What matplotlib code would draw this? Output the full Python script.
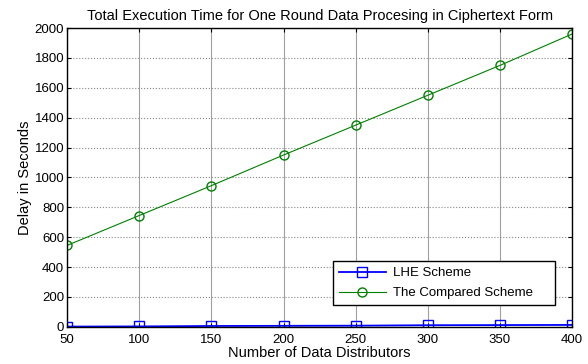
import matplotlib.pyplot as plt

plt.rcParams['font.family'] = ['Liberation Sans', 'DejaVu Sans']

# data
distributors = [50, 100, 150, 200, 250, 300, 350, 400]
lhe_delay = [2, 3, 6, 7, 8, 11, 12, 13]
compared_delay = [545, 745, 945, 1150, 1350, 1550, 1750, 1960]

fig = plt.figure(figsize=(5.88, 3.64), dpi=100)
ax = fig.add_axes([0.114, 0.102, 0.859, 0.821])

ax.plot(distributors, lhe_delay, color='#0000ff', marker='s', markersize=6.5,
        markerfacecolor='none', markeredgecolor='#0000ff', linewidth=1.3, label='LHE Scheme')
ax.plot(distributors, compared_delay, color='#008000', marker='o', markersize=6.5,
        markerfacecolor='none', markeredgecolor='#008000', linewidth=0.8, label='The Compared Scheme')

ax.set_xlim(50, 400)
ax.set_ylim(0, 2000)
ax.set_xticks(distributors)
ax.set_yticks(range(0, 2001, 200))
ax.tick_params(direction='in', labelsize=9.5, length=3, top=True, right=True, pad=2)
ax.tick_params(axis='x', pad=5)
ax.xaxis.grid(True, color='#a0a0a0', linestyle='-', linewidth=0.8)
ax.yaxis.grid(True, color='#888888', linestyle=':', linewidth=0.8)
for s in ax.spines.values():
    s.set_linewidth(1)
    s.set_color('black')

ax.set_xlabel('Number of Data Distributors', fontsize=10.5, labelpad=0)
ax.set_ylabel('Delay in Seconds', fontsize=10.5, labelpad=2)
ax.set_title('Total Execution Time for One Round Data Procesing in Ciphertext Form', fontsize=10.5, pad=6)

leg = ax.legend(loc='lower left', bbox_to_anchor=(0.513, 0.05, 0.467, 0.15), mode='expand',
                fontsize=9.5, fancybox=False, framealpha=1, edgecolor='black',
                handlelength=3.6, borderpad=0.45, labelspacing=0.6, handletextpad=0.5)
leg.get_frame().set_linewidth(1)

plt.savefig('out.png', dpi=100)
